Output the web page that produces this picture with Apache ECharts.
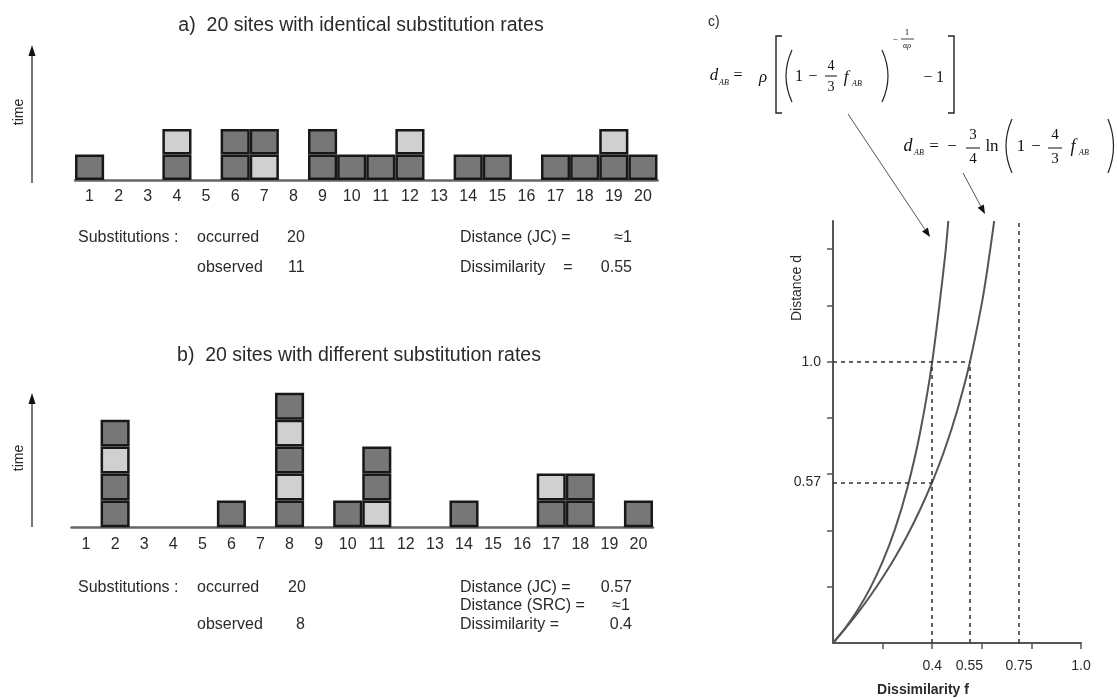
<!DOCTYPE html>
<html>
<head>
<meta charset="utf-8">
<script src="https://cdn.jsdelivr.net/npm/echarts@6/dist/echarts.min.js"></script>
<style>html,body{margin:0;padding:0;background:#fff}#c{width:1117px;height:698px}</style>
</head>
<body>
<div id="c"></div>
<script>
// ---------- DATA ----------
const sites = ['1','2','3','4','5','6','7','8','9','10','11','12','13','14','15','16','17','18','19','20'];
// substitutions per site, bottom -> top: D = dark cell, L = light cell
const stacksA = ['D','','','DL','','DD','LD','','DD','D','D','DL','','D','D','','D','D','DL','D'];
const stacksB = ['','DDLD','','','','D','','DLDLD','','D','LDD','','','D','','','DL','DD','','D'];

// panel c curves (dissimilarity f, distance d)
const fJC = [0, 0.05, 0.1, 0.15, 0.2, 0.25, 0.3, 0.35, 0.4, 0.45, 0.5, 0.55, 0.6, 0.625, 0.65];
const dJC = [0, 0.052, 0.107, 0.167, 0.233, 0.304, 0.383, 0.472, 0.572, 0.687, 0.824, 0.991, 1.207, 1.344, 1.50];
const fSRC = [0, 0.05, 0.1, 0.15, 0.2, 0.25, 0.3, 0.35, 0.4, 0.45, 0.465];
const dSRC = [0, 0.054, 0.118, 0.195, 0.289, 0.405, 0.552, 0.743, 0.999, 1.36, 1.50];
const refF = [0.4, 0.55, 0.75];
const refD = [0.57, 1.0];
const xTickVals = [0.2, 0.4, 0.6, 0.8, 1.0];
const yTickVals = [0.2, 0.4, 0.6, 0.8, 1.0, 1.2, 1.4];
const xLabelVals = [0.4, 0.55, 0.75, 1.0];
const yLabelVals = [0.57, 1.0];

// ---------- STYLE ----------
const DARK = '#777777', LIGHT = '#d0d0d0', EDGE = '#181818';
const SANS = '"Liberation Sans", Arial, sans-serif';
const SERIF = '"Liberation Serif", "DejaVu Serif", serif';
const TXT = '#2a2a2a';

function stackSeries(stacks, idx, name) {
  const levels = Math.max(...stacks.map(s => s.length));
  const out = [];
  for (let L = 0; L < levels; L++) {
    out.push({
      type: 'bar', xAxisIndex: idx, yAxisIndex: idx, stack: name, silent: true,
      barCategoryGap: '0%',
      itemStyle: { borderColor: EDGE, borderWidth: 2.5 },
      data: stacks.map(s => s[L] ? { value: 1, itemStyle: { color: s[L] === 'D' ? DARK : LIGHT } } : '-')
    });
  }
  return out;
}

function T(x, y, text, size, o) {
  o = o || {};
  return {
    type: 'text', x: x, y: y, rotation: o.rot || 0, silent: true, z: 100,
    style: {
      text: text, fontSize: size, fontFamily: o.ff || SANS, fill: o.fill || TXT,
      fontStyle: o.it ? 'italic' : 'normal', fontWeight: o.bold ? 'bold' : 'normal',
      align: o.align || 'left', verticalAlign: 'middle',
      textAlign: o.align || 'left', textVerticalAlign: 'middle'
    }
  };
}
function L(x1, y1, x2, y2, w, c) {
  return { type: 'line', silent: true, z: 100, shape: { x1, y1, x2, y2 }, style: { stroke: c || '#444', lineWidth: w || 1 } };
}
function P(points, c) {
  return { type: 'polygon', silent: true, z: 100, shape: { points }, style: { fill: c || '#111' } };
}
function B(x1, y1, x2, y2, cx, cy) {
  return { type: 'bezierCurve', silent: true, z: 100, shape: { x1, y1, x2, y2, cpx1: cx, cpy1: cy }, style: { stroke: '#222', lineWidth: 1.2, fill: null } };
}
function PL(points) {
  return { type: 'polyline', silent: true, z: 100, shape: { points }, style: { stroke: '#222', lineWidth: 1.4, fill: null } };
}
function arrow(x1, y1, x2, y2, c) {
  const dx = x2 - x1, dy = y2 - y1, len = Math.hypot(dx, dy), ux = dx / len, uy = dy / len;
  const bx = x2 - 9 * ux, by = y2 - 9 * uy, px = -uy * 3.5, py = ux * 3.5;
  return [L(x1, y1, bx, by, 1, c || '#555'), P([[x2, y2], [bx + px, by + py], [bx - px, by - py]], '#111')];
}

const graphics = [
  // panel a
  T(361, 26, 'a)  20 sites with identical substitution rates', 19.5, { align: 'center' }),
  L(32, 183, 32, 54, 2, '#777'), P([[32, 45], [28.5, 56], [35.5, 56]], '#111'),
  T(19, 112, 'time', 14, { align: 'center', rot: Math.PI / 2 }),
  T(78, 238, 'Substitutions :', 16), T(197, 238, 'occurred', 16), T(287, 238, '20', 16),
  T(197, 268, 'observed', 16), T(288, 268, '11', 16),
  T(460, 238, 'Distance (JC) =', 16), T(632, 238, '\u22481', 16, { align: 'right' }),
  T(460, 268, 'Dissimilarity', 16), T(568, 268, '=', 16, { align: 'center' }), T(632, 268, '0.55', 16, { align: 'right' }),
  // panel b
  T(359, 356, 'b)  20 sites with different substitution rates', 19.5, { align: 'center' }),
  L(32, 527, 32, 402, 2, '#777'), P([[32, 393], [28.5, 404], [35.5, 404]], '#111'),
  T(19, 458, 'time', 14, { align: 'center', rot: Math.PI / 2 }),
  T(78, 588, 'Substitutions :', 16), T(197, 588, 'occurred', 16), T(288, 588, '20', 16),
  T(197, 625, 'observed', 16), T(305, 625, '8', 16, { align: 'right' }),
  T(460, 588, 'Distance (JC) =', 16), T(632, 588, '0.57', 16, { align: 'right' }),
  T(460, 606, 'Distance (SRC) =', 16), T(630, 606, '\u22481', 16, { align: 'right' }),
  T(460, 625, 'Dissimilarity =', 16), T(632, 625, '0.4', 16, { align: 'right' }),
  // panel c labels
  T(708, 22, 'c)', 14),
  T(797, 288, 'Distance d', 14, { align: 'center', rot: Math.PI / 2 }),
  T(923, 690, 'Dissimilarity f', 14, { align: 'center', bold: true }),
  // formula 1
  T(714, 76, 'd', 17, { ff: SERIF, it: true, align: 'center', fill: '#111' }),
  T(724, 83, 'AB', 8, { ff: SERIF, it: true, align: 'center', fill: '#111' }),
  T(738, 76, '=', 16, { ff: SERIF, align: 'center', fill: '#111' }),
  T(763, 78, '\u03c1', 17, { ff: SERIF, it: true, align: 'center', fill: '#111' }),
  PL([[782, 36], [776, 36], [776, 113], [782, 113]]),
  B(792, 50, 792, 102, 780, 76),
  T(799, 77, '1', 16, { ff: SERIF, align: 'center', fill: '#111' }),
  T(813, 77, '\u2212', 16, { ff: SERIF, align: 'center', fill: '#111' }),
  T(831, 66, '4', 14, { ff: SERIF, align: 'center', fill: '#111' }),
  L(825, 76, 837, 76, 1, '#111'),
  T(831, 87, '3', 14, { ff: SERIF, align: 'center', fill: '#111' }),
  T(846, 78, 'f', 17, { ff: SERIF, it: true, align: 'center', fill: '#111' }),
  T(857, 84, 'AB', 8, { ff: SERIF, it: true, align: 'center', fill: '#111' }),
  B(882, 50, 882, 102, 894, 76),
  T(895, 40, '\u2212', 9, { ff: SERIF, align: 'center', fill: '#111' }),
  T(907, 33, '1', 9, { ff: SERIF, align: 'center', fill: '#111' }),
  L(901, 39, 914, 39, 0.8, '#111'),
  T(907, 46, '\u03b1\u03c1', 8, { ff: SERIF, it: true, align: 'center', fill: '#111' }),
  T(928, 78, '\u2212', 16, { ff: SERIF, align: 'center', fill: '#111' }),
  T(940, 78, '1', 16, { ff: SERIF, align: 'center', fill: '#111' }),
  PL([[948, 36], [954, 36], [954, 113], [948, 113]]),
  // formula 2
  T(908, 146, 'd', 18, { ff: SERIF, it: true, align: 'center', fill: '#111' }),
  T(919, 153, 'AB', 8, { ff: SERIF, it: true, align: 'center', fill: '#111' }),
  T(934, 147, '=', 17, { ff: SERIF, align: 'center', fill: '#111' }),
  T(952, 147, '\u2212', 17, { ff: SERIF, align: 'center', fill: '#111' }),
  T(973, 135, '3', 15, { ff: SERIF, align: 'center', fill: '#111' }),
  L(966, 148, 980, 148, 1, '#111'),
  T(973, 159, '4', 15, { ff: SERIF, align: 'center', fill: '#111' }),
  T(992, 147, 'ln', 17, { ff: SERIF, align: 'center', fill: '#111' }),
  B(1012, 119, 1012, 173, 1000, 146),
  T(1021, 147, '1', 17, { ff: SERIF, align: 'center', fill: '#111' }),
  T(1036, 147, '\u2212', 17, { ff: SERIF, align: 'center', fill: '#111' }),
  T(1055, 135, '4', 15, { ff: SERIF, align: 'center', fill: '#111' }),
  L(1048, 148, 1062, 148, 1, '#111'),
  T(1055, 159, '3', 15, { ff: SERIF, align: 'center', fill: '#111' }),
  T(1073, 147, 'f', 18, { ff: SERIF, it: true, align: 'center', fill: '#111' }),
  T(1084, 153, 'AB', 8, { ff: SERIF, it: true, align: 'center', fill: '#111' }),
  B(1108, 119, 1108, 173, 1119, 146)
].concat(arrow(848, 114, 930, 237)).concat(arrow(963, 173, 985, 214));

const fmtNum = v => Math.abs(v - 1) < 1e-9 ? '1.0' : String(+v.toFixed(2));

const catAxis = (idx) => ({
  type: 'category', gridIndex: idx, data: sites,
  axisLine: { show: true, lineStyle: { color: '#666', width: 2.5 } },
  axisTick: { show: false },
  axisLabel: { color: TXT, fontSize: 16, fontFamily: SANS, margin: 9, interval: 0 }
});
const hiddenY = (idx, max) => ({
  type: 'value', gridIndex: idx, min: 0, max: max, show: false, splitLine: { show: false }
});

const option = {
  animation: false,
  backgroundColor: '#fff',
  grid: [
    { left: 75, top: 129, width: 582.5, height: 51 },
    { left: 71.5, top: 392.8, width: 581.5, height: 134.5 },
    { left: 833, top: 221, width: 248, height: 422 }
  ],
  xAxis: [
    catAxis(0), catAxis(1),
    {
      type: 'value', gridIndex: 2, min: 0, max: 1,
      axisLine: { show: true, onZero: false, lineStyle: { color: '#555', width: 2 } },
      axisTick: { show: true, customValues: xTickVals, length: 6, lineStyle: { color: '#555', width: 1.5 } },
      axisLabel: { customValues: xLabelVals, formatter: fmtNum, margin: 16, color: TXT, fontSize: 14, fontFamily: SANS },
      splitLine: { show: false }
    }
  ],
  yAxis: [
    hiddenY(0, 2), hiddenY(1, 5),
    {
      type: 'value', gridIndex: 2, min: 0, max: 1.5,
      axisLine: { show: true, onZero: false, lineStyle: { color: '#555', width: 2 } },
      axisTick: { show: true, customValues: yTickVals, length: 6, lineStyle: { color: '#555', width: 1.5 } },
      axisLabel: { customValues: yLabelVals, formatter: fmtNum, margin: 12, color: TXT, fontSize: 14, fontFamily: SANS },
      splitLine: { show: false }
    }
  ],
  series: stackSeries(stacksA, 0, 'a').concat(stackSeries(stacksB, 1, 'b')).concat([
    {
      type: 'line', xAxisIndex: 2, yAxisIndex: 2, silent: true, symbol: 'none', smooth: 0.3,
      lineStyle: { color: '#555', width: 2 },
      data: fSRC.map((f, i) => [f, dSRC[i]])
    },
    {
      type: 'line', xAxisIndex: 2, yAxisIndex: 2, silent: true, symbol: 'none', smooth: 0.3,
      lineStyle: { color: '#555', width: 2 },
      data: fJC.map((f, i) => [f, dJC[i]]),
      markLine: {
        silent: true, symbol: 'none', label: { show: false },
        lineStyle: { color: '#333', width: 1.5, type: [4, 4] },
        data: [
          [{ coord: [0, refD[1]] }, { coord: [refF[1], refD[1]] }],
          [{ coord: [0, refD[0]] }, { coord: [refF[0], refD[0]] }],
          [{ coord: [refF[0], 0] }, { coord: [refF[0], refD[1]] }],
          [{ coord: [refF[1], 0] }, { coord: [refF[1], refD[1]] }],
          [{ coord: [refF[2], 0] }, { coord: [refF[2], 1.5] }]
        ]
      }
    }
  ]),
  graphic: graphics
};

const chart = echarts.init(document.getElementById('c'), null, { renderer: 'canvas' });
chart.setOption(option);
</script>
</body>
</html>
